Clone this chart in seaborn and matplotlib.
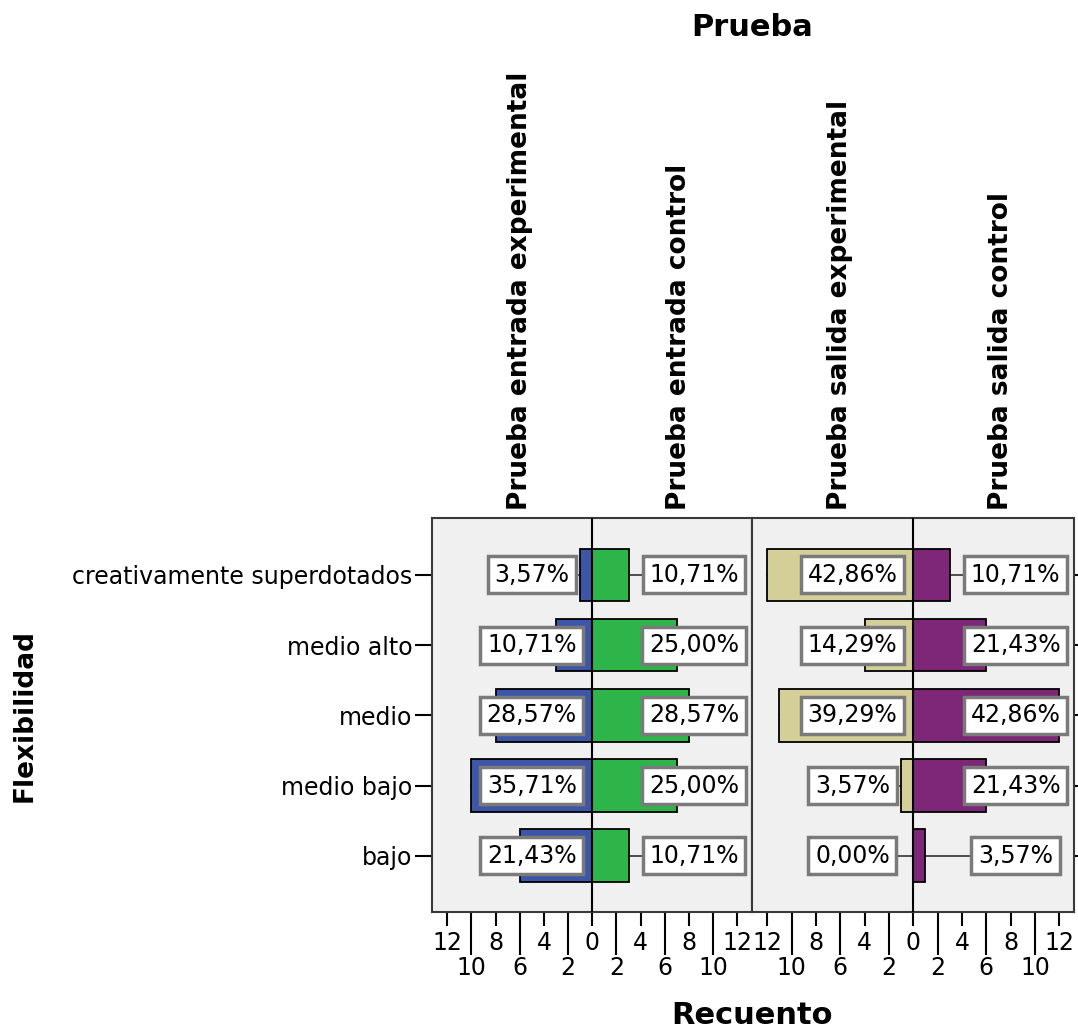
import matplotlib
matplotlib.use("Agg")
import numpy as np
import pandas as pd
import seaborn as sns
from matplotlib import pyplot as plt
from matplotlib.ticker import FixedLocator, FixedFormatter
import matplotlib.transforms as mtransforms

# Data (counts, N = 28 per group)
niveles = ['creativamente superdotados', 'medio alto', 'medio', 'medio bajo', 'bajo']
grupos = ['Prueba entrada experimental', 'Prueba entrada control',
          'Prueba salida experimental', 'Prueba salida control']
entrada_experimental = [1, 3, 8, 10, 6]
entrada_control = [3, 7, 8, 7, 3]
salida_experimental = [12, 4, 11, 1, 0]
salida_control = [3, 6, 12, 6, 1]
colores = ['#3d56a8', '#2eb54a', '#d4cf98', '#7e2779']

major_ticks = [-12, -8, -4, 0, 4, 8, 12]
minor_ticks = [-10, -6, -2, 2, 6, 10]

rows = []
for panel, (g_exp, g_ctrl, v_exp, v_ctrl) in enumerate([
        (grupos[0], grupos[1], entrada_experimental, entrada_control),
        (grupos[2], grupos[3], salida_experimental, salida_control)]):
    for grupo, vals, side in [(g_exp, v_exp, -1), (g_ctrl, v_ctrl, 1)]:
        total = sum(vals)
        for nivel, n in zip(niveles, vals):
            rows.append(dict(panel=panel, grupo=grupo, nivel=nivel, recuento=n,
                             side=side, signed=side * n, pct=100 * n / total))
df = pd.DataFrame(rows)

sns.set_style("ticks")
plt.rcParams['font.family'] = ['DejaVu Sans']
plt.rcParams['text.color'] = 'black'

W, H = 1078, 1032
fig = plt.figure(figsize=(W / 100, H / 100), dpi=100)

x_left, x_mid, x_right = 432, 752, 1074
y_top, y_bot = 518, 912
ax1 = fig.add_axes([x_left / W, 1 - y_bot / H, (x_mid - x_left) / W, (y_bot - y_top) / H])
ax2 = fig.add_axes([x_mid / W, 1 - y_bot / H, (x_right - x_mid) / W, (y_bot - y_top) / H])

lab_offset = {-1: 5.0, 1: 8.4}

for panel, ax in enumerate([ax1, ax2]):
    sub = df[df.panel == panel]
    hue_order = grupos[2 * panel:2 * panel + 2]
    sns.barplot(data=sub, x='signed', y='nivel', hue='grupo', hue_order=hue_order,
                order=niveles, palette=colores[2 * panel:2 * panel + 2], dodge=False,
                orient='h', width=0.75, edgecolor='black', linewidth=1.3,
                saturation=1, legend=False, ax=ax)
    for p in ax.patches:
        p.set_zorder(3)
    ax.set_facecolor('#f0f0f0')
    ax.set_xlim(-13.25, 13.2)
    ax.set_ylim(4.8, -0.81)
    ax.axvline(0, color='black', lw=1.5, zorder=4)

    # percentage boxes with leader lines
    for _, r in sub.iterrows():
        i = niveles.index(r.nivel)
        lx = r.side * lab_offset[r.side]
        ax.plot([r.signed, lx], [i, i], color='#404040', lw=1.3, zorder=2.5)
        txt = f"{r.pct:.2f}%".replace('.', ',')
        ax.text(lx, i, txt, ha='center', va='center', fontsize=17, zorder=6,
                color='black',
                bbox=dict(boxstyle='square,pad=0.28', fc='white', ec='#7a7a7a', lw=2.5))

    # column headers
    trans = mtransforms.blended_transform_factory(ax.transData, ax.transAxes)
    for side, grupo in zip([-1, 1], hue_order):
        hx = side * 6.6 + 0.6
        ax.text(hx, 1.02, grupo, rotation=90, ha='center', va='bottom',
                fontsize=19, fontweight='bold', transform=trans)

    ax.xaxis.set_major_locator(FixedLocator(major_ticks))
    ax.xaxis.set_major_formatter(FixedFormatter([str(abs(v)) for v in major_ticks]))
    ax.xaxis.set_minor_locator(FixedLocator(minor_ticks))
    ax.xaxis.set_minor_formatter(FixedFormatter([str(abs(v)) for v in minor_ticks]))
    ax.tick_params(axis='x', which='major', length=10, width=1.5, pad=4,
                   labelsize=17, colors='black')
    ax.tick_params(axis='x', which='minor', length=31, width=1.5, pad=1,
                   labelsize=17, colors='black')
    ax.set_xlabel('')
    ax.set_ylabel('')
    for s in ax.spines.values():
        s.set_color('#3a3a3a')
        s.set_linewidth(1.5)

ax1.tick_params(axis='y', length=12, width=1.5, labelsize=17, pad=2, colors='black')
ax2.yaxis.tick_right()
ax2.tick_params(axis='y', length=7, width=1.5, labelright=False, colors='black')
ax2.set_yticks(range(len(niveles)))

fig.text(752 / W, 1 - 28 / H, 'Prueba', ha='center', va='center',
         fontsize=22, fontweight='bold')
fig.text(25 / W, 1 - 715 / H, 'Flexibilidad', ha='center', va='center', rotation=90,
         fontsize=19, fontweight='bold')
fig.text(752 / W, 1 - 1015 / H, 'Recuento', ha='center', va='center',
         fontsize=22, fontweight='bold')

fig.savefig('out.png', dpi=100)
